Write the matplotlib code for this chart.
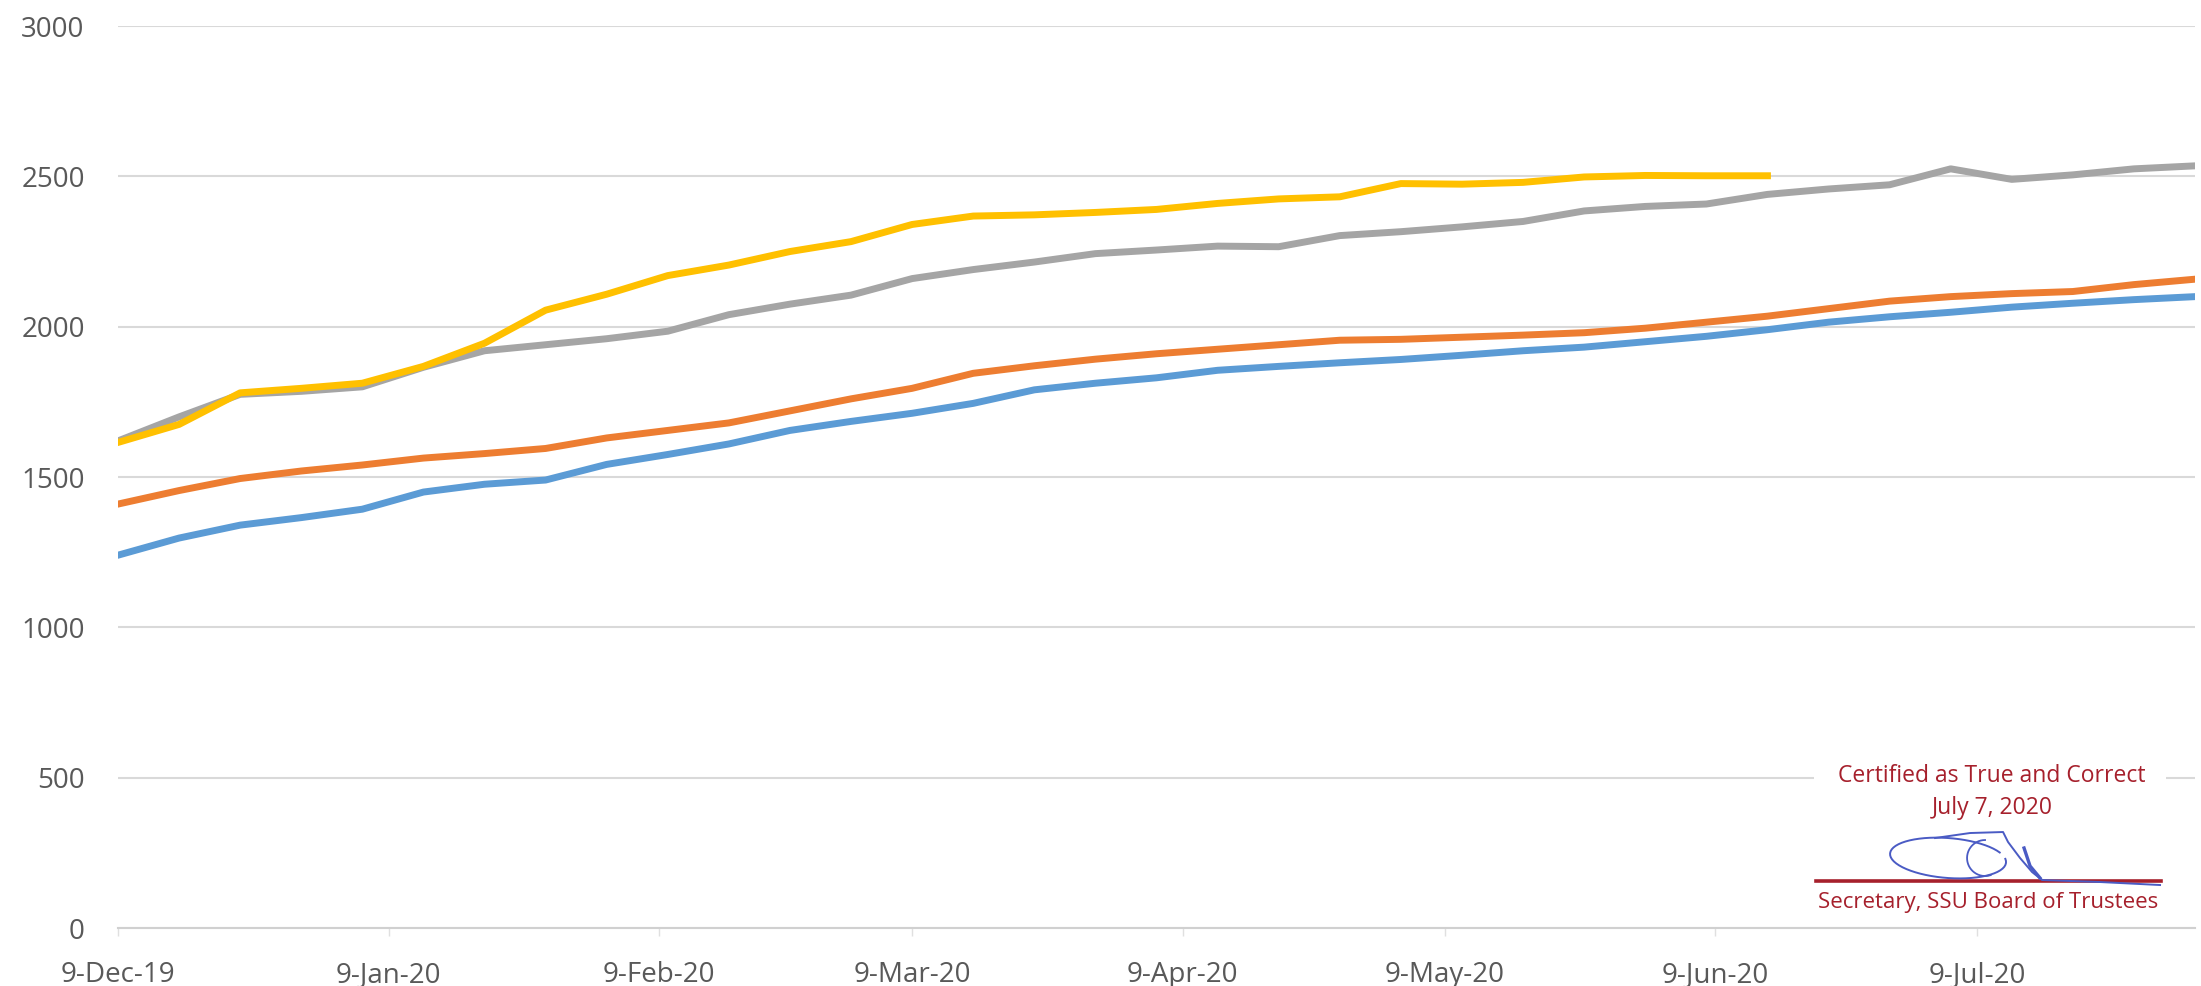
import matplotlib
matplotlib.use("Agg")
import matplotlib.pyplot as plt
import matplotlib.dates as mdates
import numpy as np
import pandas as pd

# weekly dates and the four series
week_dates = ["2019-12-09", "2019-12-16", "2019-12-23", "2019-12-30",
              "2020-01-06", "2020-01-13", "2020-01-20", "2020-01-27",
              "2020-02-03", "2020-02-10", "2020-02-17", "2020-02-24",
              "2020-03-02", "2020-03-09", "2020-03-16", "2020-03-23", "2020-03-30",
              "2020-04-06", "2020-04-13", "2020-04-20", "2020-04-27",
              "2020-05-04", "2020-05-11", "2020-05-18", "2020-05-25",
              "2020-06-01", "2020-06-08", "2020-06-15", "2020-06-22", "2020-06-29",
              "2020-07-06", "2020-07-13", "2020-07-20", "2020-07-27", "2020-08-03"]

blue = [1240, 1297, 1340, 1365, 1393, 1450, 1476, 1490, 1542, 1575, 1610, 1655,
        1685, 1712, 1745, 1790, 1812, 1830, 1855, 1868, 1880, 1891, 1905, 1920,
        1932, 1950, 1968, 1990, 2015, 2033, 2048, 2065, 2078, 2090, 2100]
orange = [1410, 1455, 1495, 1520, 1540, 1563, 1578, 1595, 1630, 1655, 1680, 1720,
          1760, 1795, 1845, 1870, 1892, 1910, 1925, 1940, 1955, 1958, 1965, 1972,
          1980, 1995, 2015, 2035, 2060, 2085, 2100, 2110, 2117, 2140, 2158]
gray = [1620, 1700, 1775, 1785, 1800, 1865, 1920, 1940, 1960, 1985, 2040, 2075,
        2105, 2160, 2190, 2215, 2243, 2255, 2268, 2266, 2303, 2316, 2332, 2350,
        2385, 2400, 2408, 2440, 2458, 2472, 2525, 2490, 2505, 2525, 2535]
yellow = [1615, 1675, 1780, 1795, 1812, 1868, 1945, 2055, 2108, 2170, 2205, 2250,
          2283, 2340, 2368, 2372, 2380, 2390, 2410, 2425, 2432, 2476, 2474, 2480,
          2498, 2503, 2502, 2502]

y_ticks = [0, 500, 1000, 1500, 2000, 2500, 3000]

dates = pd.to_datetime(week_dates)

plt.rcParams['font.family'] = ['Open Sans', 'DejaVu Sans']

fig = plt.figure(figsize=(22.01, 9.86), dpi=100)
ax = fig.add_axes([0.0536, 0.0588, 0.9437, 0.9148])

lw = 5
ax.plot(dates, blue, color="#5B9BD5", lw=lw, solid_joinstyle="round", zorder=3)
ax.plot(dates, orange, color="#ED7D31", lw=lw, solid_joinstyle="round", zorder=3)
ax.plot(dates, gray, color="#A5A5A5", lw=lw, solid_joinstyle="round", zorder=3)
ax.plot(dates[:len(yellow)], yellow, color="#FFC000", lw=lw, solid_joinstyle="round", zorder=3)

ax.set_ylim(0, 3000)
ax.set_yticks(y_ticks)
ax.set_xlim(dates[0], dates[-1])
ax.xaxis.set_major_locator(mdates.DayLocator(bymonthday=9))
ax.xaxis.set_major_formatter(mdates.DateFormatter("%-d-%b-%y"))

ax.grid(axis="y", color="#D9D9D9", lw=1.5, zorder=0)
for s in ["top", "right", "left"]:
    ax.spines[s].set_visible(False)
ax.spines["bottom"].set_color("#D0D0D0")
ax.spines["bottom"].set_linewidth(1.5)

ax.tick_params(axis="y", length=0, pad=24, labelsize=20, labelcolor="#595959")
ax.tick_params(axis="x", length=6, width=1, color="#E0E0E0", pad=18,
               labelsize=20, labelcolor="#595959")

# certification stamp in the lower right corner
def fx(px):
    return (px - 118) / 2077

def fy(py):
    return (928 - py) / 902

stamp_red = "#A6202C"
ink = "#4A5BC4"
ax.add_patch(plt.Rectangle((fx(1814), fy(924)), fx(2166) - fx(1814), fy(758) - fy(924),
                           transform=ax.transAxes, facecolor="white", edgecolor="none",
                           zorder=5))
ax.text(fx(1992), fy(776), "Certified as True and Correct", transform=ax.transAxes,
        ha="center", va="center", fontsize=16.5, color=stamp_red, zorder=6)
ax.text(fx(1992), fy(808), "July 7, 2020", transform=ax.transAxes,
        ha="center", va="center", fontsize=16.5, color=stamp_red, zorder=6)
ax.text(fx(1988), fy(902), "Secretary, SSU Board of Trustees", transform=ax.transAxes,
        ha="center", va="center", fontsize=16, color=stamp_red, zorder=6)
ax.plot([fx(1816), fx(2161)], [fy(881), fy(881)], transform=ax.transAxes,
        color=stamp_red, lw=2.6, zorder=6)

# rough signature scribble
t = np.linspace(0.15 * np.pi, 2.05 * np.pi, 60)
ax.plot(fx(1948 + 58 * np.cos(t)), fy(858 - 20 * np.sin(t) + 4 * np.cos(t)),
        transform=ax.transAxes, color=ink, lw=1.4, zorder=7)
t2 = np.linspace(0.5 * np.pi, 1.6 * np.pi, 30)
ax.plot(fx(1985 + 18 * np.cos(t2)), fy(858 - 18 * np.sin(t2)),
        transform=ax.transAxes, color=ink, lw=1.3, zorder=7)
sig_x = [1935, 1970, 2003, 2008, 2020, 2032, 2042, 2100, 2160]
sig_y = [838, 833, 832, 842, 858, 872, 880, 882, 885]
ax.plot([fx(v) for v in sig_x], [fy(v) for v in sig_y], transform=ax.transAxes,
        color=ink, lw=1.4, zorder=7)
ax.plot([fx(2024), fx(2030), fx(2040)], [fy(848), fy(866), fy(878)], transform=ax.transAxes,
        color=ink, lw=2.4, zorder=7)

fig.savefig("out.png", dpi=100)
